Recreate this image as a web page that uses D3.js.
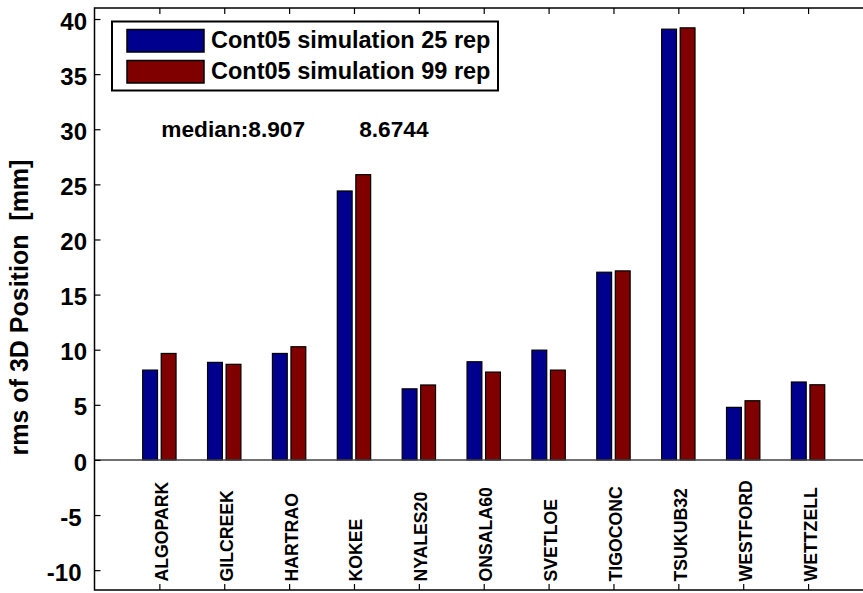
<!DOCTYPE html>
<html><head><meta charset="utf-8">
<script src="https://cdn.jsdelivr.net/npm/d3@7"></script>
<style>body{margin:0;background:#fff}svg{display:block}</style>
</head><body>
<script>
const categories = ["ALGOPARK","GILCREEK","HARTRAO","KOKEE","NYALES20","ONSALA60","SVETLOE","TIGOCONC","TSUKUB32","WESTFORD","WETTZELL"];
const rep25 = [8.15, 8.85, 9.66, 24.4, 6.45, 8.907, 9.96, 17.03, 39.08, 4.77, 7.07];
const rep99 = [9.66, 8.6744, 10.27, 25.88, 6.8, 7.97, 8.15, 17.15, 39.2, 5.37, 6.82];
const seriesNames = ["Cont05 simulation 25 rep", "Cont05 simulation 99 rep"];
const seriesColors = ["#00008f", "#800000"];
const yTicks = [-10, -5, 0, 5, 10, 15, 20, 25, 30, 35, 40];
const yDomain = [-11.8, 41];
const xDomain = [0, 12];
const medianLabels = [{text: "median:8.907", x: 1.03, y: 29.3}, {text: "8.6744", x: 4.08, y: 29.3}];

const W = 863, H = 593;
const L = 94.5, T = 8, B = 590;
const svg = d3.select("body").append("svg").attr("width", W).attr("height", H);
const x = d3.scaleLinear().domain(xDomain).range([L, L + 12 * 64.87]);
const R = x(12);
const y = d3.scaleLinear().domain(yDomain).range([B, T]);

const groupW = Math.min(0.8, 2 / 3.5);
const step = groupW / 2;
const bw = step * 0.8;
const series = [rep25, rep99];

const g = svg.append("g");
series.forEach((vals, s) => {
  g.selectAll(null).data(vals).enter().append("rect")
    .attr("x", (d, i) => x(i + 1 + (s - 0.5) * step - bw / 2))
    .attr("width", x(bw) - x(0))
    .attr("y", d => y(Math.max(0, d)))
    .attr("height", d => Math.abs(y(d) - y(0)))
    .attr("fill", seriesColors[s])
    .attr("stroke", "#000").attr("stroke-width", 1.2);
});

// zero baseline
svg.append("line").attr("x1", L).attr("x2", R).attr("y1", y(0)).attr("y2", y(0))
  .attr("stroke", "#404040").attr("stroke-width", 1.6);

// axes
const font = "Liberation Sans, Arial, Helvetica, sans-serif";
const yAxis = d3.axisLeft(y).tickValues(yTicks).tickSize(-6).tickPadding(7.5).tickFormat(d3.format("d"));
const ya = svg.append("g").attr("transform", `translate(${L},0)`).call(yAxis);
ya.select(".domain").remove();
ya.selectAll("line").attr("stroke", "#000").attr("stroke-width", 1);
ya.selectAll("text").attr("font-family", font).attr("font-size", 24).attr("font-weight", "bold").attr("fill", "#000")
  .attr("dy", "0.42em")
  .attr("x", d => d < 0 ? -13 : -7.5)
  .text(d => d < 0 ? "-" + Math.abs(d) : d);
const yR = svg.append("g").attr("transform", `translate(${R},0)`).call(d3.axisRight(y).tickValues(yTicks).tickSize(-6).tickFormat(""));
yR.select(".domain").remove();

const xTickVals = categories.map((c, i) => i + 1);
const xb = svg.append("g").attr("transform", `translate(0,${B})`)
  .call(d3.axisBottom(x).tickValues(xTickVals).tickSize(-6).tickFormat(""));
xb.select(".domain").remove();
const xt = svg.append("g").attr("transform", `translate(0,${T})`)
  .call(d3.axisTop(x).tickValues(xTickVals).tickSize(-6).tickFormat(""));
xt.select(".domain").remove();
svg.selectAll(".tick line").attr("stroke", "#000").attr("stroke-width", 1.2);

// frame
svg.append("rect").attr("x", L).attr("y", T).attr("width", R - L).attr("height", B - T)
  .attr("fill", "none").attr("stroke", "#000").attr("stroke-width", 1.5);

// category labels
svg.append("g").selectAll("text").data(categories).enter().append("text")
  .attr("transform", (d, i) => `translate(${x(i + 1) + 8.5},${B - 8.5}) rotate(-90)`)
  .attr("text-anchor", "start")
  .attr("font-family", font).attr("font-size", 17.7).attr("font-weight", "bold")
  .text(d => d);

// y label
svg.append("text").attr("transform", `translate(28,307.5) rotate(-90)`)
  .attr("text-anchor", "middle").attr("font-family", font).attr("font-size", 25).attr("font-weight", "bold")
  .attr("xml:space", "preserve").style("white-space", "pre")
  .text("rms of 3D Position  [mm]");

// median text
svg.append("g").selectAll("text").data(medianLabels).enter().append("text")
  .attr("x", d => x(d.x)).attr("y", d => y(d.y))
  .attr("font-family", font).attr("font-size", 22.7).attr("font-weight", "bold")
  .text(d => d.text);

// legend
const lg = svg.append("g");
lg.append("rect").attr("x", 112).attr("y", 21.5).attr("width", 386).attr("height", 69)
  .attr("fill", "#fff").attr("stroke", "#000").attr("stroke-width", 2);
seriesNames.forEach((n, i) => {
  lg.append("rect").attr("x", 127).attr("y", 29.5 + i * 31).attr("width", 77).attr("height", 22.5)
    .attr("fill", seriesColors[i]).attr("stroke", "#000").attr("stroke-width", 1.5);
  lg.append("text").attr("x", 211).attr("y", 47.8 + i * 31)
    .attr("font-family", font).attr("font-size", 23.5).attr("font-weight", "bold").text(n);
});
</script>
</body></html>
